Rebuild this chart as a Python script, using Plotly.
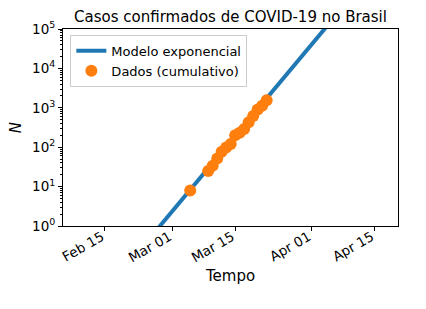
import plotly.graph_objects as go

# Data: confirmed COVID-19 cases in Brazil (cumulative)
data_dates = ["2020-03-05", "2020-03-09", "2020-03-10", "2020-03-11", "2020-03-12",
              "2020-03-13", "2020-03-14", "2020-03-15", "2020-03-16", "2020-03-17",
              "2020-03-18", "2020-03-19", "2020-03-20", "2020-03-21", "2020-03-22"]
data_values = [8, 25, 34, 52, 77, 98, 121, 200, 234, 291, 428, 621, 904, 1128, 1546]

# Exponential model line (straight on log axis), endpoints
model_dates = ["2020-02-09", "2020-04-17"]
model_values = [0.0032, 6.2e6]

x_tickvals = ["2020-02-15", "2020-03-01", "2020-03-15", "2020-04-01", "2020-04-15"]
x_ticktext = ["Feb 15", "Mar 01", "Mar 15", "Apr 01", "Apr 15"]
y_tickvals = [1, 10, 100, 1000, 10000, 100000]
y_ticktext = ["10<sup>0</sup>", "10<sup>1</sup>", "10<sup>2</sup>", "10<sup>3</sup>",
              "10<sup>4</sup>", "10<sup>5</sup>"]
y_minor_tickvals = [m * d for d in [1, 10, 100, 1000, 10000] for m in range(2, 10)]

FONT = "DejaVu Sans"

fig = go.Figure()
fig.add_trace(go.Scatter(x=model_dates, y=model_values, mode="lines",
                         line=dict(color="#1f77b4", width=4),
                         name="Modelo exponencial"))
fig.add_trace(go.Scatter(x=data_dates, y=data_values, mode="markers",
                         marker=dict(color="#ff7f0e", size=12),
                         name="Dados (cumulativo)"))

fig.update_layout(
    width=426, height=309,
    margin=dict(l=63, r=28, t=29, b=83),
    paper_bgcolor="white", plot_bgcolor="white",
    font=dict(family=FONT, color="black", size=13),
    title=dict(text="Casos confirmados de COVID-19 no Brasil",
               x=(63 + 398) / 2 / 426, xanchor="center",
               y=1 - 17 / 309, yanchor="middle",
               font=dict(size=15, family=FONT, color="black")),
    showlegend=True,
    legend=dict(x=0.022, y=0.97, xanchor="left", yanchor="top",
                bgcolor="rgba(255,255,255,0.8)", bordercolor="#cccccc", borderwidth=1,
                font=dict(size=13, family=FONT), tracegroupgap=0,
                itemwidth=30),
)

fig.update_xaxes(
    type="date",
    range=["2020-02-05 17:00", "2020-04-20 05:00"],
    tickvals=x_tickvals, ticktext=x_ticktext,
    tickangle=-30, tickfont=dict(size=13.5, family=FONT),
    ticklabelstandoff=-7, ticklabelshift=-3,
    ticks="outside", ticklen=4, tickcolor="black",
    showline=True, linecolor="black", linewidth=1, mirror=True,
    showgrid=False, zeroline=False,
    title=dict(text="Tempo", font=dict(size=15, family=FONT), standoff=6),
)
fig.update_yaxes(
    type="log", range=[0, 5],
    tickvals=y_tickvals, ticktext=y_ticktext,
    tickfont=dict(size=13.5, family=FONT),
    ticks="outside", ticklen=4, tickcolor="black",
    minor=dict(ticks="outside", ticklen=2, tickcolor="black", tickvals=y_minor_tickvals,
               showgrid=False),
    showline=True, linecolor="black", linewidth=1, mirror=True,
    showgrid=False, zeroline=False,
    title=dict(text="<i>N</i>", font=dict(size=15, family=FONT), standoff=6),
)

fig.write_html("out.html")
